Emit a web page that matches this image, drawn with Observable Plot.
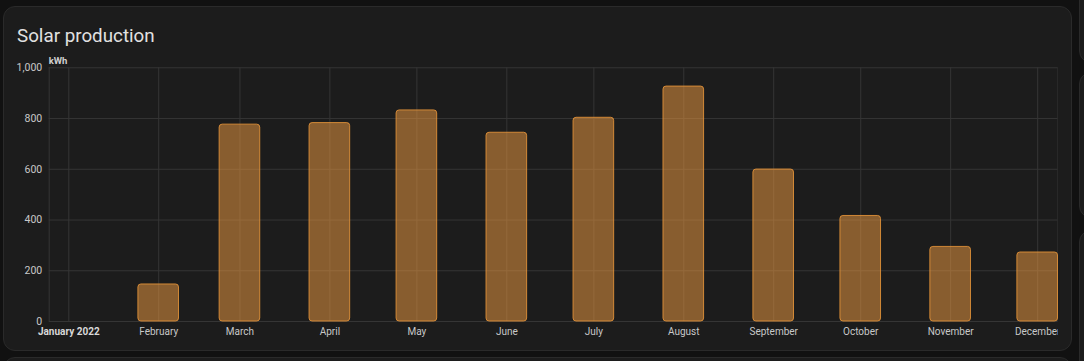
<!DOCTYPE html>
<html>
<head>
<meta charset="utf-8">
<script src="https://cdn.jsdelivr.net/npm/d3@7"></script>
<script src="https://cdn.jsdelivr.net/npm/@observablehq/plot@0.6"></script>
<style>
  html, body { margin: 0; padding: 0; background: #111111; width: 1084px; height: 361px; overflow: hidden; font-family: Roboto, "Noto Sans", sans-serif; }
  .card { position: absolute; background: #1c1c1c; border: 1px solid #2a2a2a; border-radius: 12px; box-sizing: border-box; }
  #title { position: absolute; left: 17px; top: 27px; font-size: 18.8px; line-height: 19px; color: #e1e1e1; font-family: Roboto, sans-serif; }
  #chart { position: absolute; left: 0; top: 0; }
</style>
</head>
<body>
<div class="card" style="left:3px; top:6px; width:1069px; height:345px;"></div>
<div class="card" style="left:1079px; top:-40px; width:60px; height:103px;"></div>
<div class="card" style="left:1079px; top:72px; width:60px; height:146px;"></div>
<div class="card" style="left:1079px; top:230px; width:60px; height:200px;"></div>
<div class="card" style="left:3px; top:357px; width:1069px; height:100px;"></div>
<div id="title">Solar production</div>
<div id="chart"></div>
<script>
const months = ["January 2022", "February", "March", "April", "May", "June", "July", "August", "September", "October", "November", "December"];
const values = [0, 146, 776, 782, 832, 744, 803, 926, 599, 416, 294, 272];
const yTicks = [0, 200, 400, 600, 800, 1000];
const unit = "kWh";

const DAY = 86400000;
const dates = months.map((m, i) => new Date(Date.UTC(2022, i, 1)));
const data = months.map((m, i) => ({month: m, date: dates[i], value: values[i]}));
const bars = data.filter(d => d.value > 0);
const xDomain = [new Date(Date.UTC(2021, 11, 25, 6)), new Date(Date.UTC(2022, 11, 8))];

const grid = "#353535";
const chart = Plot.plot({
  width: 1058,
  height: 361,
  marginLeft: 48.7,
  marginRight: 0.5,
  marginTop: 67.3,
  marginBottom: 40,
  style: {background: "transparent", color: "#c8c8c8", fontFamily: "Roboto, sans-serif", overflow: "hidden"},
  x: {type: "utc", domain: xDomain, axis: null},
  y: {domain: [0, 1000], axis: null},
  marks: [
    Plot.ruleY(yTicks, {stroke: grid}),
    Plot.ruleX(dates, {stroke: grid, y1: 0, y2: 1000}),
    Plot.ruleX(xDomain, {stroke: grid, y1: 0, y2: 1000}),
    Plot.rect(bars, {
      x1: d => new Date(+d.date - 7 * DAY),
      x2: d => new Date(+d.date + 7 * DAY),
      y1: 0,
      y2: "value",
      fill: "#f49e42",
      fillOpacity: 0.5,
      stroke: "#e8953a",
      strokeOpacity: 0.85,
      rx: 3
    }),
    Plot.text(yTicks, {
      x: xDomain[0], y: d => d, text: d => d3.format(",")(d),
      textAnchor: "end", dx: -7, fontSize: 10.5, fill: "#c8c8c8"
    }),
    Plot.text(data.slice(0, 1), {
      x: "date", y: 0, text: "month", dy: 10, fontSize: 10, fontWeight: "bold", fill: "#d8d8d8"
    }),
    Plot.text(data.slice(1), {
      x: "date", y: 0, text: "month", dy: 10, fontSize: 10, fill: "#c8c8c8"
    }),
    Plot.text([unit], {
      x: xDomain[0], y: 1000, text: d => d, textAnchor: "start", dy: -7.3, dx: -0.5,
      fontSize: 9.5, fontWeight: "bold", fill: "#d0d0d0"
    })
  ]
});
document.getElementById("chart").appendChild(chart);
</script>
</body>
</html>
